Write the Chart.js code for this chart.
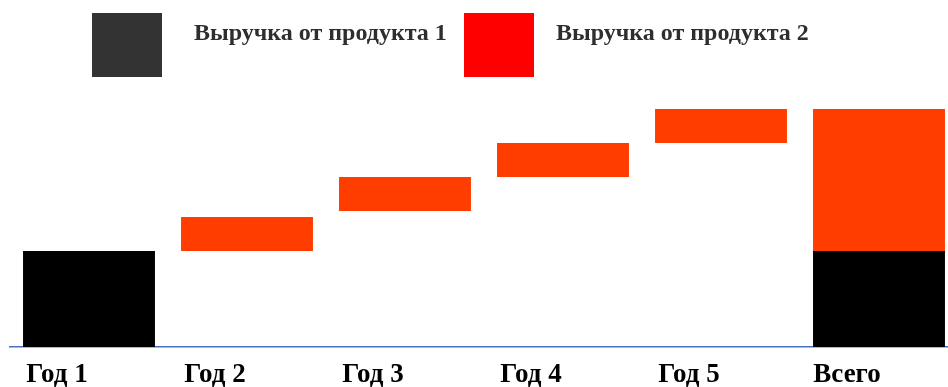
<!DOCTYPE html>
<html lang="ru">
<head>
<meta charset="utf-8">
<title>Выручка по годам</title>
<script src="https://cdn.jsdelivr.net/npm/chart.js@4/dist/chart.umd.min.js"></script>
<style>
  html, body { margin: 0; padding: 0; background: #ffffff; overflow: hidden; }
  #wrap { position: relative; width: 948px; height: 387px; overflow: hidden; }
  canvas { position: absolute; left: 0; top: 0; }
</style>
</head>
<body>
<div id="wrap"><canvas id="chart" width="960" height="387"></canvas></div>
<script>
// Years plus the final total column
const categories = ['Год 1', 'Год 2', 'Год 3', 'Год 4', 'Год 5', 'Всего'];

// Series names
const seriesNames = ['Выручка от продукта 1', 'Выручка от продукта 2'];

// Product 1: base revenue (first year and in the total)
const product1 = [48, null, null, null, null, 48];

// Product 2: floating increments [from, to] per year, and its full span in the total
const product2 = [null, [48, 65], [68, 85], [85, 102], [102, 119], [48, 119]];

// Bar fills and legend swatch fills
const barColors = ['#000000', '#FF3D00'];
const swatchColors = ['#333333', '#FF0000'];

const serifBold = 'bold 24px "Liberation Serif", "DejaVu Serif", serif';

// Legend with large square swatches and text aligned to the top of each swatch
const topLegend = {
  id: 'topLegend',
  afterDraw(chart) {
    const ctx = chart.ctx;
    const items = [
      { box: 92, text: 194 },
      { box: 464, text: 556 }
    ];
    ctx.save();
    chart.data.datasets.forEach((ds, i) => {
      const it = items[i];
      ctx.fillStyle = swatchColors[i];
      ctx.fillRect(it.box, 13, 70, 64);
      ctx.fillStyle = '#2e2e2e';
      ctx.font = serifBold;
      ctx.textBaseline = 'alphabetic';
      ctx.textAlign = 'left';
      ctx.fillText(ds.label, it.text, 40);
    });
    ctx.restore();
  }
};

new Chart(document.getElementById('chart'), {
  type: 'bar',
  data: {
    labels: categories,
    datasets: [
      {
        label: seriesNames[0],
        data: product1,
        backgroundColor: barColors[0],
        grouped: false,
        borderWidth: 0
      },
      {
        label: seriesNames[1],
        data: product2,
        backgroundColor: barColors[1],
        grouped: false,
        borderWidth: 0
      }
    ]
  },
  options: {
    responsive: false,
    animation: false,
    devicePixelRatio: 1,
    layout: { padding: { left: 10, right: 2, top: 87, bottom: 0 } },
    datasets: {
      bar: { barPercentage: 0.835, categoryPercentage: 1 }
    },
    plugins: {
      legend: { display: false },
      tooltip: { enabled: false }
    },
    scales: {
      x: {
        offset: true,
        grid: { display: false, drawTicks: false },
        border: { display: true, color: '#4A70C0', width: 1.5 },
        ticks: {
          color: '#000000',
          font: { family: '"Liberation Serif", "DejaVu Serif", serif', size: 27, weight: 'bold' },
          padding: 12,
          labelOffset: -32,
          maxRotation: 0,
          autoSkip: false
        },
        afterFit(scale) { scale.height = 40; }
      },
      y: {
        display: false,
        min: 0,
        max: 130
      }
    }
  },
  plugins: [topLegend]
});
</script>
</body>
</html>
